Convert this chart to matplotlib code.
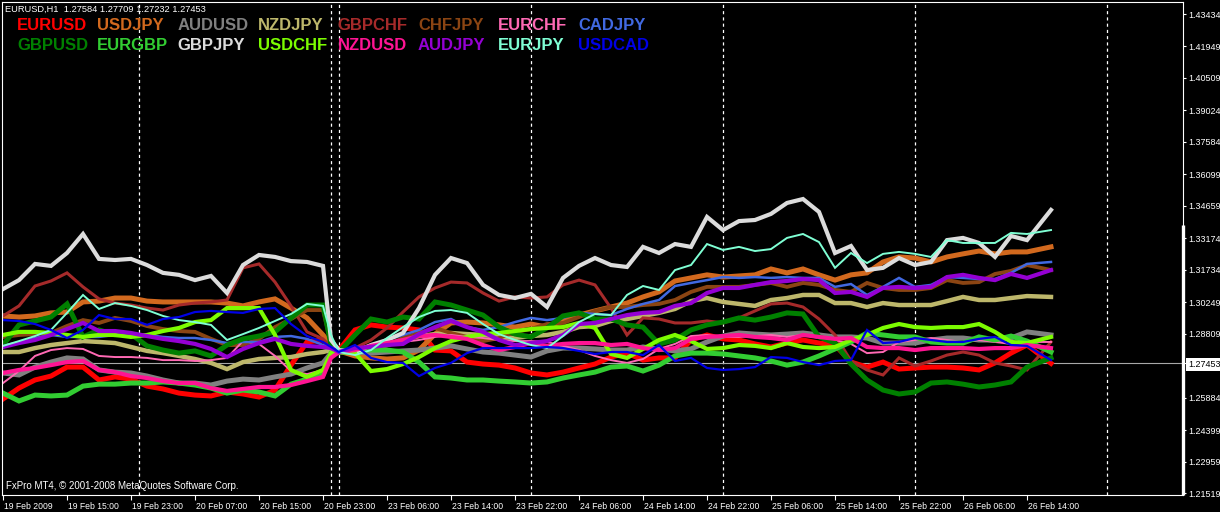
import matplotlib
matplotlib.use("Agg")
import matplotlib.pyplot as plt
from matplotlib.transforms import ScaledTranslation

# hourly bar index of each sampled point (bar 0 = 19 Feb 07:00, 41 = Sunday bar)
bars = list(range(0, 41, 2)) + [41] + list(range(42, 129, 2)) + [131]

eurusd = [1.2582, 1.2632, 1.2669, 1.2687, 1.2728, 1.2728, 1.2669, 1.2683, 1.2673, 1.2641, 1.2628,
          1.2609, 1.2600, 1.2596, 1.2614, 1.2605, 1.2591, 1.2623, 1.2737, 1.2843, 1.2852, 1.2820,
          1.2806, 1.2898, 1.2921, 1.2911, 1.2907, 1.2898, 1.2806, 1.2802, 1.2751, 1.2742, 1.2737,
          1.2724, 1.2701, 1.2692, 1.2705, 1.2724, 1.2742, 1.2774, 1.2792, 1.2760, 1.2770, 1.2770,
          1.2852, 1.2875, 1.2857, 1.2852, 1.2834, 1.2820, 1.2838, 1.2852, 1.2838, 1.2829, 1.2751,
          1.2728, 1.2751, 1.2719, 1.2724, 1.2728, 1.2728, 1.2724, 1.2715, 1.2747, 1.2792, 1.2829,
          1.2745]
usdjpy = [1.2962, 1.2957, 1.2962, 1.2976, 1.2980, 1.3026, 1.3030, 1.3044, 1.3044, 1.3030, 1.3026,
          1.3026, 1.3026, 1.3026, 1.3021, 1.3008, 1.3026, 1.3040, 1.2998, 1.2953, 1.2875, 1.2829,
          1.2802, 1.2779, 1.2770, 1.2765, 1.2770, 1.2806, 1.2879, 1.2930, 1.2934, 1.2930, 1.2921,
          1.2911, 1.2925, 1.2911, 1.2939, 1.2966, 1.2985, 1.3003, 1.3021, 1.3049, 1.3072, 1.3122,
          1.3136, 1.3150, 1.3140, 1.3145, 1.3150, 1.3177, 1.3159, 1.3177, 1.3150, 1.3126, 1.3150,
          1.3159, 1.3209, 1.3232, 1.3227, 1.3209, 1.3232, 1.3246, 1.3259, 1.3246, 1.3255, 1.3255,
          1.3278]
audusd = [1.2701, 1.2692, 1.2728, 1.2751, 1.2770, 1.2765, 1.2715, 1.2705, 1.2701, 1.2687, 1.2669,
          1.2655, 1.2655, 1.2646, 1.2664, 1.2673, 1.2669, 1.2683, 1.2696, 1.2724, 1.2747, 1.2792,
          1.2797, 1.2797, 1.2792, 1.2797, 1.2802, 1.2806, 1.2815, 1.2825, 1.2811, 1.2797, 1.2792,
          1.2783, 1.2774, 1.2802, 1.2815, 1.2815, 1.2811, 1.2806, 1.2806, 1.2820, 1.2811, 1.2802,
          1.2811, 1.2843, 1.2870, 1.2884, 1.2879, 1.2875, 1.2879, 1.2884, 1.2875, 1.2866, 1.2866,
          1.2861, 1.2838, 1.2838, 1.2838, 1.2852, 1.2861, 1.2861, 1.2852, 1.2852, 1.2861, 1.2889,
          1.2875]
nzdjpy = [1.2797, 1.2797, 1.2815, 1.2829, 1.2838, 1.2847, 1.2843, 1.2838, 1.2820, 1.2802, 1.2792,
          1.2779, 1.2765, 1.2747, 1.2719, 1.2751, 1.2765, 1.2770, 1.2774, 1.2788, 1.2797, 1.2806,
          1.2797, 1.2806, 1.2815, 1.2829, 1.2852, 1.2870, 1.2879, 1.2884, 1.2879, 1.2875, 1.2866,
          1.2861, 1.2870, 1.2875, 1.2889, 1.2911, 1.2916, 1.2939, 1.2948, 1.2962, 1.2976, 1.2994,
          1.3030, 1.3044, 1.3026, 1.3017, 1.3008, 1.3035, 1.3044, 1.3058, 1.3058, 1.3021, 1.3021,
          1.3003, 1.3021, 1.3012, 1.3012, 1.3012, 1.3030, 1.3049, 1.3035, 1.3035, 1.3044, 1.3053,
          1.3049]
gbpchf = [1.2962, 1.3008, 1.3099, 1.3122, 1.3159, 1.3095, 1.3040, 1.3021, 1.3012, 1.2998, 1.2989,
          1.3012, 1.3021, 1.3026, 1.3035, 1.3182, 1.3200, 1.3117, 1.3008, 1.2889, 1.2857, 1.2820,
          1.2797, 1.2815, 1.2852, 1.2907, 1.2980, 1.3049, 1.3090, 1.3117, 1.3113, 1.3067, 1.3030,
          1.3049, 1.3044, 1.3049, 1.3104, 1.3126, 1.3104, 1.2998, 1.2875, 1.2953, 1.2948, 1.2930,
          1.2930, 1.2939, 1.2930, 1.2953, 1.2985, 1.3017, 1.3021, 1.3003, 1.2948, 1.2875, 1.2756,
          1.2715, 1.2692, 1.2770, 1.2733, 1.2756, 1.2783, 1.2797, 1.2783, 1.2747, 1.2733, 1.2715,
          1.2843]
chfjpy = [1.2866, 1.2875, 1.2879, 1.2884, 1.2916, 1.2943, 1.2930, 1.2953, 1.2939, 1.2916, 1.2902,
          1.2893, 1.2889, 1.2857, 1.2829, 1.2829, 1.2857, 1.2911, 1.2948, 1.2989, 1.2989, 1.2838,
          1.2797, 1.2806, 1.2815, 1.2829, 1.2861, 1.2884, 1.2907, 1.2884, 1.2866, 1.2847, 1.2861,
          1.2889, 1.2902, 1.2925, 1.2930, 1.2957, 1.2985, 1.3003, 1.3003, 1.3012, 1.3017, 1.3035,
          1.3072, 1.3095, 1.3095, 1.3095, 1.3104, 1.3113, 1.3095, 1.3113, 1.3104, 1.3081, 1.3072,
          1.3113, 1.3090, 1.3081, 1.3081, 1.3090, 1.3126, 1.3113, 1.3117, 1.3154, 1.3168, 1.3195,
          1.3172]
eurchf = [1.2655, 1.2710, 1.2779, 1.2806, 1.2815, 1.2811, 1.2779, 1.2774, 1.2774, 1.2770, 1.2760,
          1.2760, 1.2756, 1.2760, 1.2770, 1.2847, 1.2834, 1.2779, 1.2710, 1.2696, 1.2715, 1.2792,
          1.2797, 1.2806, 1.2820, 1.2829, 1.2843, 1.2852, 1.2866, 1.2875, 1.2866, 1.2861, 1.2852,
          1.2847, 1.2847, 1.2843, 1.2825, 1.2806, 1.2779, 1.2760, 1.2747, 1.2765, 1.2811, 1.2834,
          1.2870, 1.2875, 1.2866, 1.2866, 1.2870, 1.2875, 1.2866, 1.2875, 1.2861, 1.2852, 1.2834,
          1.2792, 1.2797, 1.2843, 1.2852, 1.2861, 1.2852, 1.2843, 1.2852, 1.2843, 1.2834, 1.2843,
          1.2843]
cadjpy = [1.2829, 1.2838, 1.2861, 1.2875, 1.2866, 1.2866, 1.2866, 1.2875, 1.2875, 1.2875, 1.2866,
          1.2861, 1.2861, 1.2852, 1.2838, 1.2843, 1.2843, 1.2866, 1.2870, 1.2857, 1.2829, 1.2815,
          1.2797, 1.2806, 1.2829, 1.2852, 1.2875, 1.2898, 1.2934, 1.2948, 1.2911, 1.2898, 1.2911,
          1.2934, 1.2953, 1.2943, 1.2953, 1.2976, 1.2971, 1.2966, 1.2994, 1.3017, 1.3035, 1.3099,
          1.3113, 1.3126, 1.3140, 1.3136, 1.3140, 1.3136, 1.3140, 1.3136, 1.3136, 1.3095, 1.3108,
          1.3058, 1.3095, 1.3136, 1.3095, 1.3104, 1.3140, 1.3136, 1.3131, 1.3131, 1.3159, 1.3200,
          1.3209]
gbpusd = [1.2829, 1.2921, 1.2939, 1.2957, 1.3017, 1.2866, 1.2898, 1.2875, 1.2879, 1.2825, 1.2806,
          1.2792, 1.2802, 1.2779, 1.2829, 1.2857, 1.2870, 1.2889, 1.2953, 1.3012, 1.3012, 1.2829,
          1.2797, 1.2875, 1.2948, 1.2934, 1.2957, 1.2948, 1.3026, 1.3012, 1.2989, 1.2966, 1.2911,
          1.2879, 1.2866, 1.2907, 1.2962, 1.2976, 1.2948, 1.2948, 1.2921, 1.2911, 1.2834, 1.2852,
          1.2898, 1.2921, 1.2934, 1.2953, 1.2943, 1.2957, 1.2976, 1.2971, 1.2866, 1.2838, 1.2742,
          1.2669, 1.2623, 1.2605, 1.2614, 1.2655, 1.2660, 1.2650, 1.2637, 1.2646, 1.2660, 1.2728,
          1.2770]
eurgbp = [1.2609, 1.2573, 1.2600, 1.2596, 1.2600, 1.2641, 1.2650, 1.2650, 1.2655, 1.2655, 1.2660,
          1.2655, 1.2646, 1.2632, 1.2609, 1.2623, 1.2614, 1.2596, 1.2650, 1.2673, 1.2692, 1.2792,
          1.2797, 1.2806, 1.2806, 1.2806, 1.2797, 1.2751, 1.2683, 1.2678, 1.2669, 1.2669, 1.2664,
          1.2660, 1.2655, 1.2660, 1.2678, 1.2692, 1.2705, 1.2728, 1.2733, 1.2710, 1.2737, 1.2779,
          1.2792, 1.2792, 1.2788, 1.2779, 1.2770, 1.2756, 1.2737, 1.2751, 1.2779, 1.2811, 1.2843,
          1.2884, 1.2875, 1.2866, 1.2866, 1.2843, 1.2838, 1.2838, 1.2866, 1.2852, 1.2870, 1.2847,
          1.2797]
gbpjpy = [1.3085, 1.3126, 1.3200, 1.3191, 1.3250, 1.3337, 1.3223, 1.3218, 1.3223, 1.3195, 1.3159,
          1.3150, 1.3126, 1.3145, 1.3067, 1.3195, 1.3241, 1.3232, 1.3213, 1.3209, 1.3191, 1.2852,
          1.2806, 1.2797, 1.2829, 1.2852, 1.2884, 1.2998, 1.3150, 1.3227, 1.3204, 1.3104, 1.3058,
          1.3044, 1.3063, 1.3003, 1.3136, 1.3191, 1.3227, 1.3195, 1.3186, 1.3278, 1.3250, 1.3291,
          1.3278, 1.3415, 1.3355, 1.3396, 1.3401, 1.3429, 1.3479, 1.3497, 1.3438, 1.3250, 1.3282,
          1.3172, 1.3182, 1.3227, 1.3195, 1.3209, 1.3309, 1.3319, 1.3296, 1.3232, 1.3328, 1.3309,
          1.3447]
usdchf = [1.2875, 1.2889, 1.2889, 1.2884, 1.2875, 1.2866, 1.2875, 1.2875, 1.2866, 1.2875, 1.2893,
          1.2907, 1.2934, 1.2943, 1.2998, 1.2998, 1.2998, 1.2875, 1.2715, 1.2683, 1.2715, 1.2792,
          1.2797, 1.2792, 1.2710, 1.2719, 1.2742, 1.2774, 1.2815, 1.2847, 1.2866, 1.2879, 1.2884,
          1.2893, 1.2902, 1.2907, 1.2911, 1.2930, 1.2907, 1.2788, 1.2770, 1.2811, 1.2852, 1.2875,
          1.2847, 1.2811, 1.2815, 1.2829, 1.2825, 1.2815, 1.2838, 1.2820, 1.2815, 1.2820, 1.2852,
          1.2875, 1.2907, 1.2925, 1.2911, 1.2907, 1.2911, 1.2911, 1.2925, 1.2889, 1.2843, 1.2838,
          1.2866]
nzdusd = [1.2701, 1.2715, 1.2724, 1.2737, 1.2751, 1.2756, 1.2715, 1.2705, 1.2687, 1.2678, 1.2664,
          1.2655, 1.2655, 1.2632, 1.2619, 1.2628, 1.2637, 1.2637, 1.2646, 1.2664, 1.2683, 1.2770,
          1.2797, 1.2806, 1.2825, 1.2838, 1.2852, 1.2870, 1.2875, 1.2866, 1.2857, 1.2829, 1.2806,
          1.2820, 1.2838, 1.2825, 1.2834, 1.2838, 1.2838, 1.2829, 1.2834, 1.2815, 1.2806, 1.2815,
          1.2857, 1.2866, 1.2870, 1.2875, 1.2866, 1.2861, 1.2852, 1.2875, 1.2866, 1.2857, 1.2861,
          1.2820, 1.2815, 1.2815, 1.2806, 1.2815, 1.2815, 1.2815, 1.2811, 1.2815, 1.2815, 1.2829,
          1.2815]
audjpy = [1.2820, 1.2838, 1.2852, 1.2875, 1.2902, 1.2930, 1.2893, 1.2893, 1.2884, 1.2870, 1.2857,
          1.2847, 1.2834, 1.2811, 1.2774, 1.2811, 1.2838, 1.2857, 1.2834, 1.2825, 1.2820, 1.2815,
          1.2797, 1.2815, 1.2820, 1.2829, 1.2834, 1.2879, 1.2911, 1.2939, 1.2911, 1.2889, 1.2852,
          1.2829, 1.2838, 1.2847, 1.2875, 1.2925, 1.2930, 1.2948, 1.2966, 1.2976, 1.2980, 1.3008,
          1.3021, 1.3067, 1.3090, 1.3090, 1.3104, 1.3117, 1.3122, 1.3131, 1.3126, 1.3067, 1.3072,
          1.3049, 1.3090, 1.3095, 1.3090, 1.3095, 1.3140, 1.3150, 1.3136, 1.3126, 1.3154, 1.3136,
          1.3172]
eurjpy = [1.2825, 1.2847, 1.2870, 1.2898, 1.2976, 1.3058, 1.2994, 1.3021, 1.3008, 1.2989, 1.2962,
          1.2943, 1.2934, 1.2921, 1.2852, 1.2879, 1.2907, 1.2939, 1.2971, 1.3017, 1.3008, 1.2875,
          1.2797, 1.2783, 1.2806, 1.2861, 1.2911, 1.2957, 1.2985, 1.2989, 1.2976, 1.2925, 1.2879,
          1.2852, 1.2829, 1.2815, 1.2870, 1.2934, 1.2971, 1.2966, 1.3058, 1.3099, 1.3081, 1.3172,
          1.3195, 1.3291, 1.3264, 1.3278, 1.3259, 1.3268, 1.3319, 1.3337, 1.3300, 1.3182, 1.3250,
          1.3204, 1.3246, 1.3255, 1.3246, 1.3232, 1.3309, 1.3296, 1.3296, 1.3296, 1.3342, 1.3337,
          1.3355]
usdcad = [1.2943, 1.2939, 1.2925, 1.2898, 1.2861, 1.2898, 1.2966, 1.2948, 1.2948, 1.2921, 1.2948,
          1.2957, 1.2980, 1.2985, 1.2980, 1.2976, 1.2994, 1.2998, 1.2925, 1.2870, 1.2843, 1.2820,
          1.2797, 1.2829, 1.2770, 1.2751, 1.2747, 1.2687, 1.2724, 1.2747, 1.2792, 1.2815, 1.2815,
          1.2815, 1.2815, 1.2820, 1.2815, 1.2802, 1.2788, 1.2797, 1.2797, 1.2783, 1.2829, 1.2756,
          1.2770, 1.2724, 1.2715, 1.2719, 1.2728, 1.2774, 1.2770, 1.2751, 1.2737, 1.2756, 1.2760,
          1.2898, 1.2838, 1.2843, 1.2861, 1.2852, 1.2843, 1.2843, 1.2857, 1.2866, 1.2829, 1.2825,
          1.2760]

symbols = ["EURUSD", "USDJPY", "AUDUSD", "NZDJPY", "GBPCHF", "CHFJPY", "EURCHF", "CADJPY",
           "GBPUSD", "EURGBP", "GBPJPY", "USDCHF", "NZDUSD", "AUDJPY", "EURJPY", "USDCAD"]
series = [eurusd, usdjpy, audusd, nzdjpy, gbpchf, chfjpy, eurchf, cadjpy,
          gbpusd, eurgbp, gbpjpy, usdchf, nzdusd, audjpy, eurjpy, usdcad]
colors = ["#FF0000", "#D2691E", "#808080", "#BDB76B", "#A52A2A", "#8B4513", "#FF69B4", "#4169E1",
          "#008000", "#32CD32", "#DCDCDC", "#7CFC00", "#FF1493", "#9400D3", "#7FFFD4", "#0000E6"]
widths = [3.6, 3.6, 3.6, 3.2, 2.2, 2.8, 1.4, 1.8,
          3.6, 3.6, 3.0, 3.0, 3.0, 3.0, 1.4, 1.6]

tick_bars = [0, 8, 16, 24, 32, 40, 48, 56, 64, 72, 80, 88, 96, 104, 112, 120, 128]
tick_labels = ["19 Feb 2009", "19 Feb 15:00", "19 Feb 23:00", "20 Feb 07:00", "20 Feb 15:00",
               "20 Feb 23:00", "23 Feb 06:00", "23 Feb 14:00", "23 Feb 22:00", "24 Feb 06:00",
               "24 Feb 14:00", "24 Feb 22:00", "25 Feb 06:00", "25 Feb 14:00", "25 Feb 22:00",
               "26 Feb 06:00", "26 Feb 14:00"]
day_starts = [17, 41, 42, 66, 90, 114, 138]
price_ticks = [1.43434, 1.41949, 1.40509, 1.39024, 1.37584, 1.36099, 1.34659, 1.33174,
               1.31734, 1.30249, 1.28809, 1.27453, 1.25884, 1.24399, 1.22959, 1.21519]
last_price = 1.27453
header = "EURUSD,H1  1.27584 1.27709 1.27232 1.27453"
footer = "FxPro MT4, \u00a9 2001-2008 MetaQuotes Software Corp."

W, H = 1220, 512
fig = plt.figure(figsize=(W / 100, H / 100), dpi=100, facecolor="black")
ax = fig.add_axes([2 / W, (H - 495) / H, (1183 - 2) / W, (495 - 2) / H], facecolor="black")

for d in day_starts:
    ax.axvline(d, color="white", lw=0.9, ls=(0, (2.5, 2.5)), zorder=1)
ax.axhline(last_price, color="#A8A8A8", lw=0.8, zorder=1)

for vals, c, w in zip(series, colors, widths):
    ax.plot(bars, vals, color=c, lw=w, solid_joinstyle="miter", zorder=2)

ax.set_xlim(-0.125, 147.5)
ax.set_ylim(1.21428, 1.43984)

small = "Liberation Sans"
ax.set_xticks(tick_bars, tick_labels)
ax.tick_params(axis="x", colors="white", length=3.5, width=0.8, pad=1.5, labelsize=6.2)
shift = ScaledTranslation(1.5 / 100, 0, fig.dpi_scale_trans)
for lab in ax.get_xticklabels():
    lab.set_horizontalalignment("left")
    lab.set_family(small)
    lab.set_transform(lab.get_transform() + shift)

ax.yaxis.tick_right()
ax.set_yticks(price_ticks, [f"{p:.5f}" for p in price_ticks])
ax.tick_params(axis="y", colors="white", length=2.5, width=0.8, pad=1.2, labelsize=6.5)
for lab, p in zip(ax.get_yticklabels(), price_ticks):
    lab.set_family(small)
    if p == last_price:
        lab.set_color("black")
        lab.set_bbox(dict(facecolor="white", edgecolor="none", pad=1.6))

for sp in ax.spines.values():
    sp.set_color("white")
    sp.set_linewidth(0.8)
ax.plot([1, 1], [0, 0.548], transform=ax.transAxes, color="white", lw=2.4,
        solid_capstyle="butt", clip_on=False, zorder=5)

fig.text(5 / W, 1 - 9.5 / H, header, color="white", fontsize=6.7, family=small, va="center")
fig.text(6 / W, 1 - 486 / H, footer, color="white", fontsize=7, family=small, va="center")

for k, (sym, c) in enumerate(zip(symbols, colors)):
    col, row = k % 8, k // 8
    fig.text((17 + 80.2 * col) / W, 1 - (26 + 20 * row) / H, sym, color=c,
             fontsize=12, fontweight="bold", family="Liberation Sans", va="center")

fig.savefig("out.png", dpi=100, facecolor="black")
